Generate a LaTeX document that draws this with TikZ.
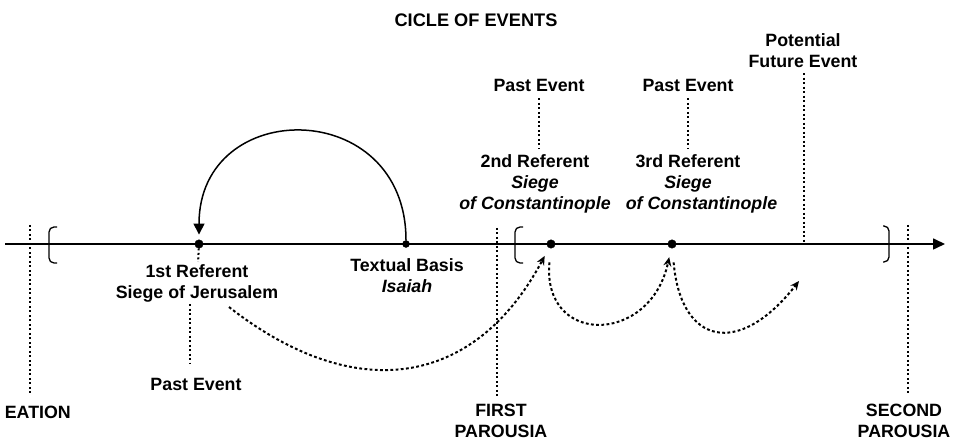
\documentclass[tikz,border=0pt]{standalone}
\usepackage{fontspec}
\setmainfont{Liberation Sans}
\usepackage{tikz}
\usetikzlibrary{arrows.meta, calc, positioning}
\tikzset{
    textnode/.style = {draw=none, fill=none, rectangle, inner sep=0pt, 
      font=\fontsize{17.8pt}{21pt}\selectfont\bfseries},
    dotnode/.style = {draw, fill=black, circle, inner sep=0pt, minimum size=8.5pt},
    dotline/.style = {line width=2pt, dash pattern=on 2pt off 2.5pt},
    jumpline/.style = {line width=2pt, dash pattern=on 2.8pt off 2.4pt, 
      -{Stealth[length=9pt,width=8pt]}},
    bracket/.style = {line width=1.3pt, rounded corners=5pt},
    connect/.style = {line width=1.5pt, -{Triangle[length=11pt,width=11pt]}},
    every text node part/.style={align=center}
}

\begin{document}
\begin{tikzpicture}[x=1pt, y=1pt]
    \useasboundingbox (0,0) rectangle (957,441);

    \node [name=title, textnode, font=\fontsize{18.2pt}{21pt}\selectfont\bfseries] at (476,421) {CICLE OF EVENTS};

    % time line
    \coordinate (start) at (5,197);
    \coordinate (end) at (945,197);
    \draw [line width=1.6pt, -{Triangle[length=12pt,width=11pt]}] (start) -- (end);

    \node [name=r1, dotnode] at (199,197) {};
    \node [name=tb, dotnode, minimum size=7pt] at (406,197) {};
    \node [name=r2, dotnode] at (551,197) {};
    \node [name=r3, dotnode] at (672,197) {};
    \coordinate (fut) at (804,197);

    % brackets
    \draw [bracket] (57,214) -| (49,178) -- (57,178);
    \draw [bracket] (523,214) -| (515,178) -- (523,178);
    \draw [bracket] (883,215) -| (889,179) -- (883,179);

    % creation and the two parousias
    \node [name=creation, textnode, anchor=east] at (71,29) {EATION};
    \node [name=first, textnode, anchor=north] at (501,37) {FIRST\\PAROUSIA};
    \node [name=second, textnode, anchor=north] at (904,37) {SECOND\\PAROUSIA};
    \coordinate (crtop) at (30,216);
    \coordinate (fptop) at (497,213);
    \coordinate (sptop) at (908,216);
    \draw [dotline] (crtop) -- (crtop |- 0,46);
    \draw [dotline] (fptop) -- (fptop |- 0,44);
    \draw [dotline] (sptop) -- (sptop |- 0,46);

    % labels
    \node [name=ref1, textnode] at (197,158) {1st Referent\\Siege of Jerusalem};
    \node [name=past1, textnode] at (196,57) {Past Event};
    \node [name=basis, textnode] at (407,165) {Textual Basis\\\textit{Isaiah}};
    \node [name=ref2, textnode] at (535,257.5) {2nd Referent\\\textit{Siege}\\\textit{of Constantinople}};
    \node [name=past2, textnode] at (539,356) {Past Event};
    \node [name=ref3, textnode] at (688,257.5) {3rd Referent\\\textit{Siege}\\\hspace*{27pt}\textit{of Constantinople}};
    \node [name=past3, textnode] at (688,356) {Past Event};
    \node [name=future, textnode] at (803,390) {Potential\\Future Event};

    \draw [dotline, shorten >=2pt] (r1) -- (ref1);
    \draw [dotline, shorten <=2pt, shorten >=15pt] ([xshift=-7pt]ref1.south) -- ([xshift=-6pt]past1.north);
    \draw [dotline, shorten <=7pt, shorten >=6pt] (past2.south) -- (past2.south |- ref2.north);
    \draw [dotline, shorten <=7pt, shorten >=6pt] (past3.south) -- (past3.south |- ref3.north);
    \draw [dotline, shorten <=5pt] (future.south -| fut) -- (fut);

    % cycle
    \draw [connect, shorten >=5pt] (tb) .. controls +(0,148) and +(0,148) .. (r1);
    \coordinate (nxt) at (799,160);
    \draw [jumpline, shorten >=9pt] ([xshift=32pt,yshift=-5pt]ref1.south) to[out=-38, in=-118, looseness=1.25] (r2);
    \draw [jumpline, shorten <=14pt, shorten >=9pt] (r2) to[out=-95, in=-102, looseness=2.1] (r3);
    \draw [jumpline, shorten <=14pt] (r3) to[out=-85, in=-128, looseness=1.9] (nxt);
\end{tikzpicture}
\end{document}
